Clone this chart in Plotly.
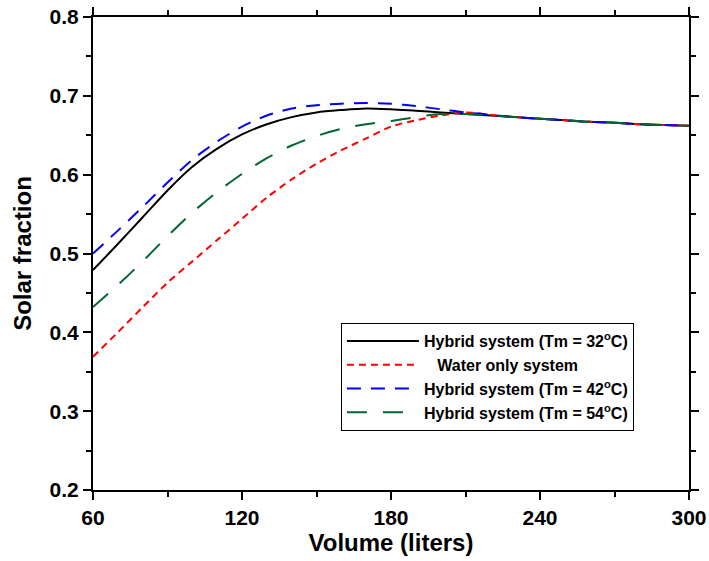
import plotly.graph_objects as go

# Tank volume (liters)
volume = [60, 70, 80, 90, 100, 110, 120, 130, 140, 150, 160, 170, 180,
          190, 200, 210, 220, 230, 240, 250, 260, 270, 280, 290, 300]

# Solar fraction for each configuration
sf_tm32 = [0.479, 0.512, 0.546, 0.580, 0.610, 0.633, 0.651, 0.664, 0.673, 0.679,
           0.682, 0.684, 0.683, 0.681, 0.679, 0.677, 0.675, 0.673, 0.671, 0.669,
           0.667, 0.666, 0.664, 0.663, 0.662]
sf_water = [0.369, 0.400, 0.432, 0.463, 0.490, 0.517, 0.544, 0.571, 0.594, 0.614,
            0.631, 0.646, 0.661, 0.669, 0.675, 0.679, 0.676, 0.673, 0.671, 0.669,
            0.667, 0.666, 0.664, 0.663, 0.662]
sf_tm42 = [0.500, 0.529, 0.559, 0.590, 0.619, 0.642, 0.661, 0.675, 0.684, 0.688,
           0.690, 0.691, 0.690, 0.687, 0.683, 0.679, 0.676, 0.673, 0.671, 0.669,
           0.667, 0.666, 0.664, 0.663, 0.662]
sf_tm54 = [0.432, 0.460, 0.490, 0.522, 0.552, 0.578, 0.601, 0.621, 0.637, 0.649,
           0.658, 0.664, 0.668, 0.673, 0.677, 0.677, 0.675, 0.673, 0.671, 0.669,
           0.667, 0.666, 0.664, 0.663, 0.662]

x_ticks = [60, 120, 180, 240, 300]
y_ticks = [0.2, 0.3, 0.4, 0.5, 0.6, 0.7, 0.8]

series = [
    ("Hybrid system (Tm = 32<sup>o</sup>C)", sf_tm32, "#000000", "solid"),
    ("\u00a0\u00a0\u00a0Water only system", sf_water, "#ff0000", "7px,5px"),
    ("Hybrid system (Tm = 42<sup>o</sup>C)", sf_tm42, "#0000ff", "14px,10px"),
    ("Hybrid system (Tm = 54<sup>o</sup>C)", sf_tm54, "#006633", "20px,16px"),
]

fig = go.Figure()
for name, vals, color, dash in series:
    fig.add_trace(go.Scatter(
        x=volume, y=vals, name=name, mode="lines",
        line=dict(color=color, width=2, dash=dash, shape="spline", smoothing=0.8),
    ))

font_family = "Liberation Sans, Arial, sans-serif"
axis_common = dict(
    showline=True, linecolor="black", linewidth=2, mirror="ticks",
    ticks="outside", ticklen=8, tickwidth=2, tickcolor="black",
    showgrid=False, zeroline=False, automargin=False,
    tickfont=dict(family=font_family, size=21, color="black", weight="bold"),
)

fig.update_xaxes(
    range=[60, 300], tickvals=x_ticks,
    minor=dict(dtick=30, ticks="outside", ticklen=5, tickwidth=2, tickcolor="black"),
    title=dict(text="Volume (liters)", standoff=2,
               font=dict(family=font_family, size=24, color="black", weight="bold")),
    **axis_common,
)
fig.update_yaxes(
    range=[0.2, 0.8], tickvals=y_ticks, tickformat=".1f",
    minor=dict(dtick=0.05, ticks="outside", ticklen=5, tickwidth=2, tickcolor="black"),
    title=dict(text="Solar fraction", standoff=11,
               font=dict(family=font_family, size=24, color="black", weight="bold")),
    **axis_common,
)

fig.update_layout(
    width=709, height=561,
    margin=dict(l=93, r=20, t=17, b=71),
    plot_bgcolor="white", paper_bgcolor="white",
    showlegend=True,
    legend=dict(
        x=0.416, y=0.353, xanchor="left", yanchor="top",
        bordercolor="black", borderwidth=1, bgcolor="white",
        font=dict(family=font_family, size=16, color="black", weight="bold"),
        itemwidth=72, tracegroupgap=0,
    ),
)

fig.write_html("out.html")
